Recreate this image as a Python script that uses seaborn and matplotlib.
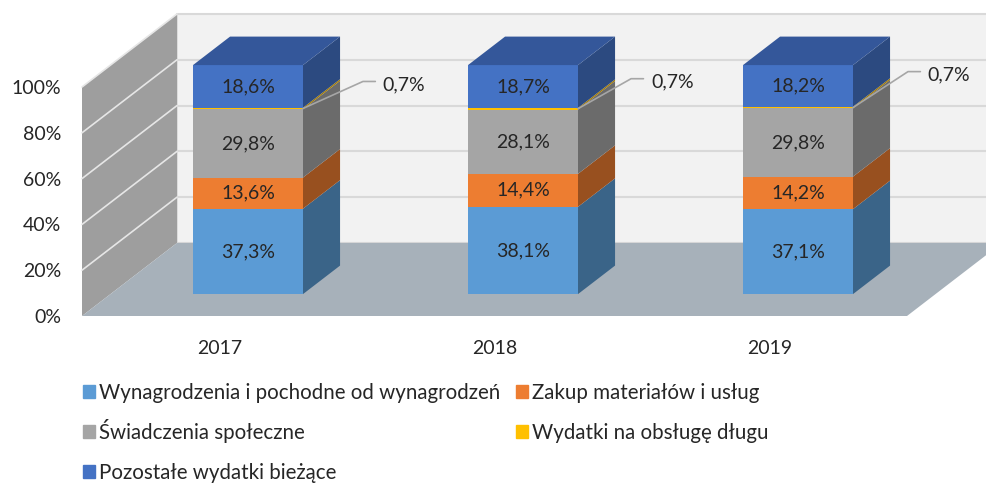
import matplotlib
matplotlib.use("Agg")
import matplotlib.pyplot as plt
from matplotlib.patches import Polygon, Patch
import seaborn as sns
import pandas as pd
import numpy as np

# data (shares in %)
years = ['2017', '2018', '2019']
wynagrodzenia = [37.3, 38.1, 37.1]
zakup = [13.6, 14.4, 14.2]
swiadczenia = [29.8, 28.1, 29.8]
dlug = [0.7, 0.7, 0.7]
pozostale = [18.6, 18.7, 18.2]
series_names = ['Wynagrodzenia i pochodne od wynagrodzeń', 'Zakup materiałów i usług',
                'Świadczenia społeczne', 'Wydatki na obsługę długu', 'Pozostałe wydatki bieżące']
yticks = [0, 20, 40, 60, 80, 100]

front_colors = ['#5B9BD5', '#ED7D31', '#A5A5A5', '#FFC000', '#4472C4']
side_colors = ['#3A6488', '#98501F', '#6B6B6B', '#A67C00', '#2C4A80']
top_color = '#34579A'

sns.set_style('white')
plt.rcParams['font.family'] = ['Lato', 'DejaVu Sans']
fs = 14
fs_leg = 14.8

df = pd.DataFrame({'year': years})
for name, vals in zip(series_names, [wynagrodzenia, zakup, swiadczenia, dlug, pozostale]):
    df[name] = vals

# fake 3d: depth goes right/up
DX, DY = 0.3455, 31.9        # full floor depth (x units, percent)
d0, d1 = 0.30, 0.69          # bar depth range
bw = 0.4
x0 = -0.5 - d0 * DX
x1 = 2.5 - d0 * DX

fig = plt.figure(figsize=(9.87, 4.84), dpi=100)
ax = fig.add_axes([82 / 987, 1 - 316 / 484, 825 / 987, 229 / 484])
ax.set_facecolor('none')

# walls + floor
ax.add_patch(Polygon([(x0 + DX, DY), (x1 + DX + 0.5, DY), (x1 + DX + 0.5, 100 + DY), (x0 + DX, 100 + DY)],
                     closed=True, fc='#F2F2F2', ec='#D9D9D9', lw=1.2, zorder=0, clip_on=False))
for t in yticks:
    ax.plot([x0 + DX, x1 + DX + 0.5], [t + DY, t + DY], color='#D9D9D9', lw=1.5, zorder=0.1, clip_on=False)
ax.add_patch(Polygon([(x0, 0), (x0 + DX, DY), (x0 + DX, 100 + DY), (x0, 100)],
                     closed=True, fc='#9E9E9E', ec='none', zorder=0.2, clip_on=False))
for t in yticks[1:]:
    ax.plot([x0, x0 + DX], [t, t + DY], color='#E6E6E6', lw=1.2, zorder=0.3, clip_on=False)
ax.add_patch(Polygon([(x0, 0), (x1, 0), (x1 + DX, DY), (x0 + DX, DY)],
                     closed=True, fc='#A7B1BA', ec='none', zorder=0.4, clip_on=False))

# front faces of stacked bars
base = np.zeros(len(years)) + d0 * DY
bdx, bdy = (d1 - d0) * DX, (d1 - d0) * DY
for i, name in enumerate(series_names):
    vals = df[name].to_numpy()
    sns.barplot(data=df, x='year', y=name, color=front_colors[i], saturation=1, bottom=base.copy(),
                width=bw, errorbar=None, linewidth=0, clip_on=False, zorder=2, ax=ax)
    for j, v in enumerate(vals):
        xr = j + bw / 2
        b, t = base[j], base[j] + v
        ax.add_patch(Polygon([(xr, b), (xr + bdx, b + bdy), (xr + bdx, t + bdy), (xr, t)],
                             closed=True, fc=side_colors[i], ec='none', zorder=2, clip_on=False))
        lab = f'{v:.1f}%'.replace('.', ',')
        if v >= 5:
            ax.text(j, (b + t) / 2, lab, ha='center', va='center', fontsize=fs, zorder=4)
    base = base + vals

# top faces
for j in range(len(years)):
    xl, xr, t = j - bw / 2, j + bw / 2, base[j]
    ax.add_patch(Polygon([(xl, t), (xr, t), (xr + bdx, t + bdy), (xl + bdx, t + bdy)],
                         closed=True, fc=top_color, ec='none', zorder=2, clip_on=False))

# outside labels for the thin debt segment
lead_dx = [0.218, 0.193, 0.200]
lead_dy = [11.8, 13.1, 15.7]
cum_below = np.array(wynagrodzenia) + np.array(zakup) + np.array(swiadczenia)
for j, v in enumerate(dlug):
    sx, sy = j + bw / 2, cum_below[j] + v / 2 + d0 * DY
    ex, ey = sx + lead_dx[j], sy + lead_dy[j]
    ax.plot([sx, ex, ex + 0.045], [sy, ey, ey], color='#A6A6A6', lw=1.2, zorder=5, clip_on=False)
    ax.text(ex + 0.072, ey - 1.5, f'{v:.1f}%'.replace('.', ','), ha='left', va='center', fontsize=fs, zorder=5)

ax.set_xlim(x0, x1)
ax.set_ylim(0, 100)
ax.set_xticks([j - d0 * DX for j in range(len(years))], years)
ax.set_yticks(yticks, [f'{t}%' for t in yticks])
ax.set_xlabel('')
ax.set_ylabel('')
ax.tick_params(axis='both', length=0, labelsize=fs)
ax.tick_params(axis='x', pad=17)
ax.tick_params(axis='y', pad=15)
for s in ax.spines.values():
    s.set_visible(False)
ax.grid(False)

# legend: one entry per box so rows share baselines across both columns
leg_x = [83, 516, 83, 516, 83]
leg_base = [398, 398, 438, 438, 478]
px = fs_leg * 100 / 72
for k, name in enumerate(series_names):
    fig.legend([Patch(color=front_colors[k])], [name], loc='lower left',
               bbox_to_anchor=(leg_x[k] / 987, 1 - (leg_base[k] + 0.22 * px) / 484),
               frameon=False, fontsize=fs_leg, handlelength=0.58, handleheight=0.58,
               handletextpad=0.18, borderpad=0, borderaxespad=0)

fig.savefig('out.png', dpi=100)
